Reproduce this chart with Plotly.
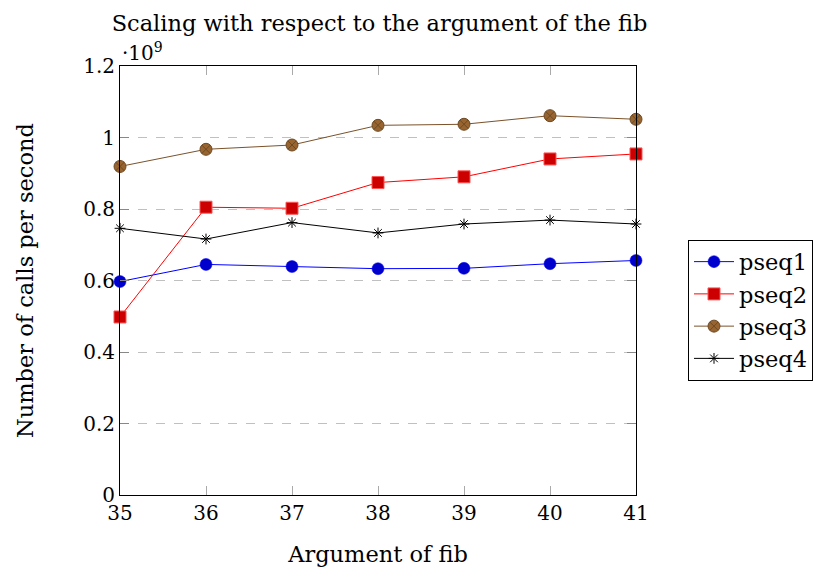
import plotly.graph_objects as go

x_vals = [35, 36, 37, 38, 39, 40, 41]
pseq1 = [0.597, 0.645, 0.639, 0.633, 0.634, 0.647, 0.656]
pseq2 = [0.498, 0.805, 0.802, 0.874, 0.890, 0.940, 0.954]
pseq3 = [0.919, 0.967, 0.979, 1.034, 1.037, 1.061, 1.051]
pseq4 = [0.746, 0.716, 0.762, 0.733, 0.758, 0.769, 0.758]
y_ticks = [0, 0.2, 0.4, 0.6, 0.8, 1.0, 1.2]
y_tick_text = ["0", "0.2", "0.4", "0.6", "0.8", "1", "1.2"]

FONT = "DejaVu Serif"
TICK_FS = 20
TXT_FS = 22.5

fig = go.Figure()
fig.add_trace(go.Scatter(x=x_vals, y=pseq1, name="pseq1", mode="lines+markers",
                         line=dict(color="#0000ff", width=1),
                         marker=dict(symbol="circle", size=12, color="#0000cc",
                                     line=dict(color="#0000ff", width=0.5)),
                         cliponaxis=False))
fig.add_trace(go.Scatter(x=x_vals, y=pseq2, name="pseq2", mode="lines+markers",
                         line=dict(color="#ff0000", width=1),
                         marker=dict(symbol="square", size=12, color="#cc0000",
                                     line=dict(color="#ff5555", width=1)),
                         cliponaxis=False))
fig.add_trace(go.Scatter(x=x_vals, y=pseq3, name="pseq3", mode="lines+markers",
                         line=dict(color="#7a522a", width=1),
                         marker=dict(symbol="circle-x", size=12, color="#98642f",
                                     line=dict(color="#6e4a24", width=1)),
                         cliponaxis=False))
fig.add_trace(go.Scatter(x=x_vals, y=pseq4, name="pseq4", mode="lines+markers",
                         line=dict(color="#000000", width=1),
                         marker=dict(symbol="asterisk-open", size=9, color="#000000",
                                     line=dict(color="#000000", width=1)),
                         cliponaxis=False))

fig.update_layout(
    width=817, height=567,
    margin=dict(l=120, r=181, t=66, b=72, autoexpand=False),
    plot_bgcolor="white", paper_bgcolor="white",
    font=dict(family=FONT, size=TICK_FS, color="black"),
    title=dict(text="Scaling with respect to the argument of the fib",
               x=(108 + 651) / 2 / 817, xanchor="center", y=1 - 23 / 567, yanchor="middle",
               font=dict(family=FONT, size=TXT_FS, color="black")),
    showlegend=True,
    legend=dict(x=(688 - 120) / 516, xanchor="left", y=(495 - 310) / 429, yanchor="middle",
                bordercolor="black", borderwidth=1, bgcolor="white",
                font=dict(family=FONT, size=TXT_FS, color="black"),
                itemwidth=40, tracegroupgap=0),
)
fig.update_xaxes(range=[35, 41], tickvals=x_vals, ticktext=[str(v) for v in x_vals],
                 showgrid=False, zeroline=False, showline=True, linecolor="black", linewidth=1,
                 mirror="allticks", ticks="inside", ticklen=9, tickcolor="#aaaaaa",
                 tickfont=dict(family=FONT, size=TICK_FS), automargin=False,
                 title=dict(text="Argument of fib", font=dict(family=FONT, size=TXT_FS), standoff=22))
fig.update_yaxes(range=[0, 1.2], tickvals=y_ticks, ticktext=y_tick_text,
                 showgrid=True, gridcolor="#c0c0c0", griddash="dash", gridwidth=1,
                 zeroline=False, showline=True, linecolor="black", linewidth=1,
                 mirror="allticks", ticks="inside", ticklen=9, tickcolor="#888888",
                 tickfont=dict(family=FONT, size=TICK_FS), automargin=False,
                 title=dict(text="Number of calls per second", font=dict(family=FONT, size=TXT_FS), standoff=43))
fig.add_annotation(text="·10<sup>9</sup>", xref="paper", yref="paper", x=0.0, y=1.0,
                   xanchor="left", yanchor="bottom", showarrow=False, yshift=-1,
                   font=dict(family=FONT, size=20, color="black"))
fig.write_html("out.html")
